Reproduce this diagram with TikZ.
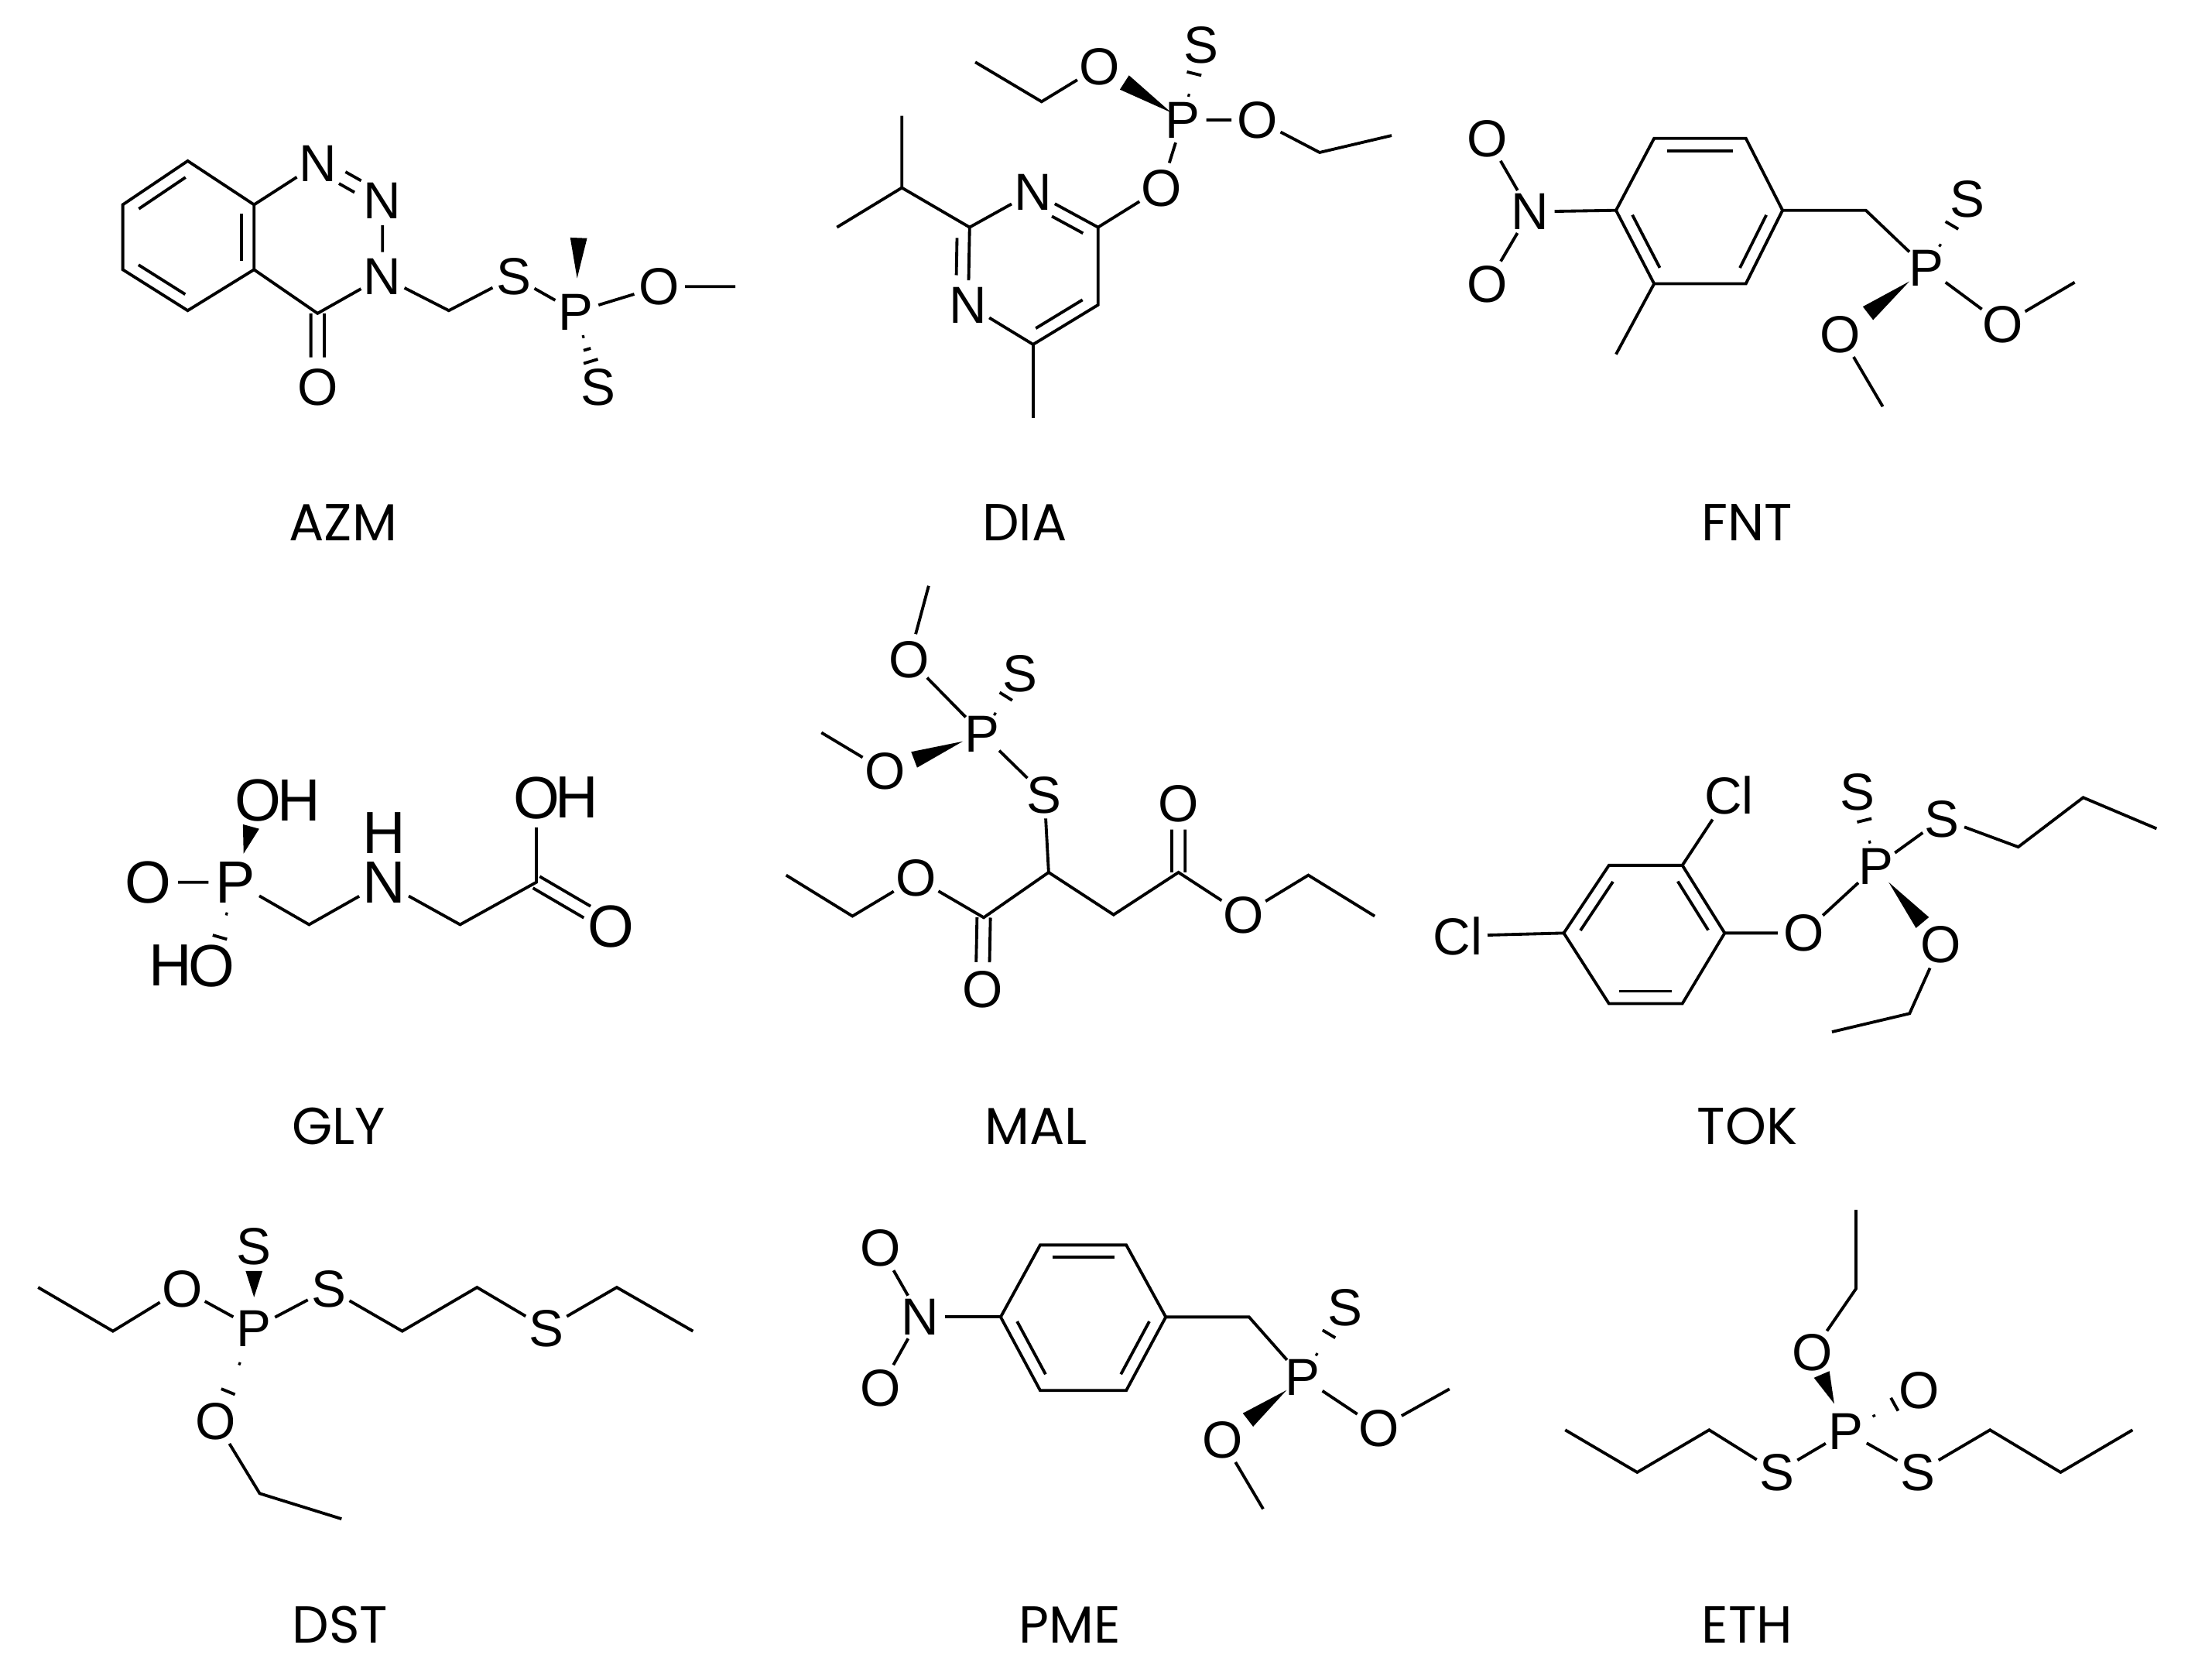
\documentclass[tikz,border=0pt]{standalone}
\usepackage{fontspec}
\setmainfont{Liberation Sans}
\newfontfamily\lblfont{Poppins}
\usetikzlibrary{calc,positioning}
\tikzset{
	atom/.style={circle, inner sep=-0.5pt, text depth=0pt, font=\fontsize{21}{21}\selectfont},
	bigatom/.style={atom, font=\fontsize{24}{24}\selectfont},
	bond/.style={line width=1.2pt, black},
	lbl/.style={inner sep=0pt, font=\lblfont\fontsize{21}{21}\selectfont}
}
\newcommand{\wedgebond}[4]{\fill ($(#1)!#3!(#2)$) -- ($(#1)!#4!(#2)!3.4pt!90:(#2)$) -- ($(#1)!#4!(#2)!3.4pt!-90:(#2)$) -- cycle;}
\newcommand{\hashbond}[3][.33/.5,.62/3]{\foreach \frc/\wid in {#1}{\draw[bond] ($(#2)!\frc!(#3)!\wid pt!90:(#3)$) -- ($(#2)!\frc!(#3)!\wid pt!-90:(#3)$);}}
\newcommand{\innerbond}[4]{\draw[bond] ($(#1)!#3!(#2)!5pt!-90:(#2)$) -- ($(#1)!#4!(#2)!5pt!-90:(#2)$);}
\newcommand{\pairbond}[4]{\draw[bond] ($(#1)!#3!(#2)!2.7pt!90:(#2)$) -- ($(#1)!#4!(#2)!2.7pt!90:(#2)$);
	\draw[bond] ($(#1)!#3!(#2)!2.7pt!-90:(#2)$) -- ($(#1)!#4!(#2)!2.7pt!-90:(#2)$);}
\begin{document}
\begin{tikzpicture}[x=0.02cm, y=-0.02cm]
	\useasboundingbox (0,0) rectangle (1567.3,1188.9);
	\coordinate (azA) at (133,114);
	\coordinate (azB) at (180,145);
	\coordinate (azC) at (180,191);
	\coordinate (azD) at (133,220);
	\coordinate (azE) at (87,191);
	\coordinate (azF) at (87,145);
	\coordinate (azG) at (225,222);
	\coordinate (azH) at (318,220);
	\coordinate (azM) at (410,168);
	\coordinate (azK) at (521,203);
	\node[atom] (azN1) at (225,116) {N};
	\node[atom] (azN2) at (271,142) {N};
	\node[atom] (azN3) at (271,196) {N};
	\node[atom] (azO1) at (225,274) {O};
	\node[atom] (azS1) at (364,196) {S};
	\node[atom] (azP) at (408,221) {P};
	\node[atom] (azO2) at (467,203) {O};
	\node[atom] (azS2) at (424,274) {S};
	\draw[bond] (azA) -- (azB) -- (azC) -- (azD) -- (azE) -- (azF) -- cycle;
	\draw[bond] (azB) -- (azN1);
	\draw[bond] (azC) -- (azG) -- (azN3) -- (azN2);
	\draw[bond] (azN3) -- (azH) -- (azS1) -- (azP) -- (azO2) -- (azK);
	\innerbond{azB}{azC}{.14}{.86}
	\innerbond{azD}{azE}{.14}{.86}
	\innerbond{azF}{azA}{.14}{.86}
	\pairbond{azN1}{azN2}{.38}{.62}
	\pairbond{azG}{azO1}{0}{.6}
	\wedgebond{azP}{azM}{.45}{.99}
	\hashbond[.33/.5,.5/1.5,.66/3]{azP}{azS2}
	\node[lbl] (azlab) at (243,370) {AZM};

	\coordinate (diA) at (687,161);
	\coordinate (diB) at (778,161);
	\coordinate (diC) at (778,216);
	\coordinate (diD) at (732,244);
	\coordinate (diE) at (639,133);
	\coordinate (diF) at (639,82);
	\coordinate (diG) at (593,161);
	\coordinate (diH) at (732,296);
	\coordinate (diJ) at (738,72);
	\coordinate (diK) at (691,44);
	\coordinate (diL) at (935,108);
	\coordinate (diM) at (986,96);
	\node[atom] (diN1) at (732,136) {N};
	\node[atom] (diN2) at (686,216) {N};
	\node[atom] (diP) at (838,85) {P};
	\node[atom] (diO1) at (779,47) {O};
	\node[atom] (diO2) at (891,85) {O};
	\node[atom] (diO3) at (823,133) {O};
	\node[atom] (diS) at (851,32) {S};
	\draw[bond] (diA) -- (diN1);
	\draw[bond] (diN1) -- (diB) -- (diC) -- (diD) -- (diN2) -- (diA);
	\draw[bond] (diA) -- (diE) -- (diF);
	\draw[bond] (diE) -- (diG);
	\draw[bond] (diD) -- (diH);
	\draw[bond] (diB) -- (diO3) -- (diP) -- (diO2) -- (diL) -- (diM);
	\draw[bond] (diO1) -- (diJ) -- (diK);
	\innerbond{diA}{diN2}{.14}{.62}
	\innerbond{diN1}{diB}{.38}{.86}
	\innerbond{diC}{diD}{.14}{.86}
	\wedgebond{diP}{diO1}{.14}{.7}
	\hashbond{diP}{diS}
	\node[lbl] (dilab) at (726,370) {DIA};

	\coordinate (fnA) at (1172,98);
	\coordinate (fnB) at (1237,98);
	\coordinate (fnC) at (1263,149);
	\coordinate (fnD) at (1237,201);
	\coordinate (fnE) at (1172,201);
	\coordinate (fnF) at (1145,149);
	\coordinate (fnG) at (1145,251);
	\coordinate (fnH) at (1322,149);
	\coordinate (fnJ) at (1470,200);
	\coordinate (fnK) at (1334,288);
	\node[atom] (fnN) at (1084,150) {N};
	\node[atom] (fnO1) at (1054,98) {O};
	\node[atom] (fnO2) at (1054,201) {O};
	\node[atom] (fnP) at (1365,190) {P};
	\node[atom] (fnS) at (1394,141) {S};
	\node[atom] (fnO3) at (1419,230) {O};
	\node[atom] (fnO4) at (1304,237) {O};
	\draw[bond] (fnA) -- (fnB) -- (fnC) -- (fnD) -- (fnE) -- (fnF) -- cycle;
	\draw[bond] (fnF) -- (fnN);
	\draw[bond] (fnO1) -- (fnN) -- (fnO2);
	\draw[bond] (fnE) -- (fnG);
	\draw[bond] (fnC) -- (fnH) -- (fnP) -- (fnO3) -- (fnJ);
	\draw[bond] (fnO4) -- (fnK);
	\innerbond{fnA}{fnB}{.14}{.86}
	\innerbond{fnC}{fnD}{.14}{.86}
	\innerbond{fnE}{fnF}{.14}{.86}
	\wedgebond{fnP}{fnO4}{.2}{.68}
	\hashbond{fnP}{fnS}
	\node[lbl] (fnlab) at (1238,370) {FNT};

	\coordinate (glA) at (219,655);
	\coordinate (glB) at (326,655);
	\coordinate (glC) at (380,625);
	\node[bigatom] (glP) at (167,625) {P};
	\node[bigatom] (glO1) at (105,625) {O};
	\node[bigatom] (glO2) at (183,567) {O};
	\node[bigatom, right=-7pt of glO2] (glH1) {H};
	\node[bigatom] (glO3) at (150,684) {O};
	\node[bigatom, left=-7pt of glO3] (glH2) {H};
	\node[bigatom] (glN) at (272,625) {N};
	\node[bigatom] (glH3) at (272,590) {H};
	\node[bigatom] (glO4) at (380,565) {O};
	\node[bigatom, right=-7pt of glO4] (glH4) {H};
	\node[bigatom] (glO5) at (433,656) {O};
	\draw[bond] (glO1) -- (glP) -- (glA) -- (glN) -- (glB) -- (glC) -- (glO4);
	\pairbond{glC}{glO5}{0}{.68}
	\wedgebond{glP}{glO2}{.35}{.68}
	\hashbond[.38/.5,.66/3]{glP}{glO3}
	\node[lbl] (gllab) at (240,798) {GLY};

	\coordinate (maA) at (557,620);
	\coordinate (maB) at (604,649);
	\coordinate (maC) at (697,650);
	\coordinate (maD) at (743,618);
	\coordinate (maE) at (789,648);
	\coordinate (maF) at (835,618);
	\coordinate (maG) at (927,620);
	\coordinate (maH) at (974,649);
	\coordinate (maJ) at (658,415);
	\coordinate (maK) at (582,519);
	\node[atom] (maO1) at (649,622) {O};
	\node[atom] (maO2) at (696,701) {O};
	\node[atom] (maS1) at (740,563) {S};
	\node[atom] (maP) at (696,520) {P};
	\node[atom] (maO3) at (644,467) {O};
	\node[atom] (maS2) at (723,477) {S};
	\node[atom] (maO4) at (627,546) {O};
	\node[atom] (maO5) at (835,569) {O};
	\node[atom] (maO6) at (881,648) {O};
	\draw[bond] (maA) -- (maB) -- (maO1) -- (maC) -- (maD) -- (maE) -- (maF) -- (maO6) -- (maG) -- (maH);
	\draw[bond] (maD) -- (maS1) -- (maP) -- (maO3) -- (maJ);
	\draw[bond] (maO4) -- (maK);
	\pairbond{maC}{maO2}{0}{.62}
	\pairbond{maF}{maO5}{0}{.62}
	\wedgebond{maP}{maO4}{.2}{.7}
	\hashbond{maP}{maS2}
	\node[lbl] (malab) at (734,798) {MAL};

	\coordinate (toA) at (1140,613);
	\coordinate (toB) at (1192,613);
	\coordinate (toC) at (1222,661);
	\coordinate (toD) at (1192,711);
	\coordinate (toE) at (1140,711);
	\coordinate (toF) at (1108,661);
	\coordinate (toG) at (1430,600);
	\coordinate (toH) at (1476,565);
	\coordinate (toJ) at (1528,587);
	\coordinate (toK) at (1353,718);
	\coordinate (toL) at (1298,731);
	\node[atom] (toCl1) at (1225,563) {Cl};
	\node[atom] (toCl2) at (1033,663) {Cl};
	\node[atom] (toO1) at (1278,661) {O};
	\node[atom] (toP) at (1329,614) {P};
	\node[atom] (toS1) at (1316,561) {S};
	\node[atom] (toS2) at (1376,580) {S};
	\node[atom] (toO2) at (1375,669) {O};
	\draw[bond] (toA) -- (toB) -- (toC) -- (toD) -- (toE) -- (toF) -- cycle;
	\draw[bond] (toB) -- (toCl1);
	\draw[bond] (toF) -- (toCl2);
	\draw[bond] (toC) -- (toO1) -- (toP) -- (toS2) -- (toG) -- (toH) -- (toJ);
	\draw[bond] (toO2) -- (toK) -- (toL);
	\innerbond{toB}{toC}{.14}{.86}
	\innerbond{toD}{toE}{.14}{.86}
	\innerbond{toF}{toA}{.14}{.86}
	\wedgebond{toP}{toO2}{.2}{.72}
	\hashbond{toP}{toS1}
	\node[lbl] (tolab) at (1238,798) {TOK};

	\coordinate (dsA) at (27,912);
	\coordinate (dsB) at (80,943);
	\coordinate (dsC) at (285,943);
	\coordinate (dsD) at (338,912);
	\coordinate (dsE) at (437,912);
	\coordinate (dsF) at (491,943);
	\coordinate (dsG) at (184,1058);
	\coordinate (dsH) at (242,1076);
	\node[atom] (dsO1) at (129,913) {O};
	\node[atom] (dsP) at (180,941) {P};
	\node[atom] (dsS1) at (180,883) {S};
	\node[atom] (dsS2) at (233,913) {S};
	\node[atom] (dsS3) at (387,941) {S};
	\node[atom] (dsO2) at (153,1007) {O};
	\draw[bond] (dsA) -- (dsB) -- (dsO1) -- (dsP) -- (dsS2) -- (dsC) -- (dsD) -- (dsS3) -- (dsE) -- (dsF);
	\draw[bond] (dsO2) -- (dsG) -- (dsH);
	\wedgebond{dsP}{dsS1}{.38}{.7}
	\hashbond[.38/.5,.68/3]{dsP}{dsO2}
	\node[lbl] (dslab) at (241,1151) {DST};

	\coordinate (pmA) at (737,882);
	\coordinate (pmB) at (798,882);
	\coordinate (pmC) at (826,933);
	\coordinate (pmD) at (798,985);
	\coordinate (pmE) at (737,985);
	\coordinate (pmF) at (709,933);
	\coordinate (pmG) at (885,933);
	\coordinate (pmH) at (1027,984);
	\coordinate (pmJ) at (895,1069);
	\node[atom] (pmN) at (652,933) {N};
	\node[atom] (pmO1) at (624,884) {O};
	\node[atom] (pmO2) at (624,983) {O};
	\node[atom] (pmP) at (923,976) {P};
	\node[atom] (pmS) at (953,926) {S};
	\node[atom] (pmO3) at (977,1012) {O};
	\node[atom] (pmO4) at (866,1020) {O};
	\draw[bond] (pmA) -- (pmB) -- (pmC) -- (pmD) -- (pmE) -- (pmF) -- cycle;
	\draw[bond] (pmF) -- (pmN);
	\draw[bond] (pmO1) -- (pmN) -- (pmO2);
	\draw[bond] (pmC) -- (pmG) -- (pmP) -- (pmO3) -- (pmH);
	\draw[bond] (pmO4) -- (pmJ);
	\innerbond{pmA}{pmB}{.14}{.86}
	\innerbond{pmC}{pmD}{.14}{.86}
	\innerbond{pmE}{pmF}{.14}{.86}
	\wedgebond{pmP}{pmO4}{.2}{.68}
	\hashbond{pmP}{pmS}
	\node[lbl] (pmlab) at (758,1151) {PME};

	\coordinate (etA) at (1315,913);
	\coordinate (etB) at (1315,857);
	\coordinate (etC) at (1211,1013);
	\coordinate (etD) at (1160,1043);
	\coordinate (etE) at (1109,1013);
	\coordinate (etF) at (1410,1013);
	\coordinate (etG) at (1460,1043);
	\coordinate (etH) at (1511,1013);
	\node[atom] (etP) at (1308,1014) {P};
	\node[atom] (etO1) at (1284,958) {O};
	\node[atom] (etO2) at (1360,985) {O};
	\node[atom] (etS1) at (1259,1043) {S};
	\node[atom] (etS2) at (1359,1043) {S};
	\draw[bond] (etO1) -- (etA) -- (etB);
	\draw[bond] (etP) -- (etS1) -- (etC) -- (etD) -- (etE);
	\draw[bond] (etP) -- (etS2) -- (etF) -- (etG) -- (etH);
	\wedgebond{etP}{etO1}{.35}{.72}
	\hashbond[.38/.5,.66/3]{etP}{etO2}
	\node[lbl] (etlab) at (1238,1151) {ETH};
\end{tikzpicture}
\end{document}
